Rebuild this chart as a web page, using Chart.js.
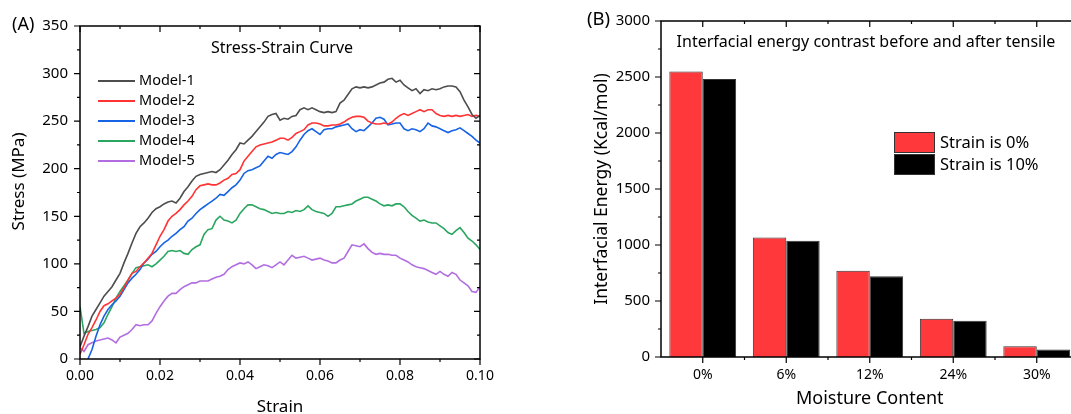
<!DOCTYPE html>
<html>
<head>
<meta charset="utf-8">
<script src="https://cdn.jsdelivr.net/npm/chart.js@4.4.1/dist/chart.umd.min.js"></script>
<style>
  html, body { margin: 0; padding: 0; background: #fff; overflow: hidden; }
  #wrap { position: relative; width: 1071px; height: 414px; overflow: hidden; }
  canvas { position: absolute; top: 0; }
  #c1 { left: 0; }
  #c2 { left: 540px; }
</style>
</head>
<body>
<div id="wrap">
  <canvas id="c1" width="540" height="418"></canvas>
  <canvas id="c2" width="560" height="418"></canvas>
</div>
<script>
// (A) stress-strain curves
const strain = [
  0, 0.001, 0.002, 0.003, 0.004, 0.005, 0.006, 0.007, 0.008, 0.009,
  0.01, 0.011, 0.012, 0.013, 0.014, 0.015, 0.016, 0.017, 0.018, 0.019,
  0.02, 0.021, 0.022, 0.023, 0.024, 0.025, 0.026, 0.027, 0.028, 0.029,
  0.03, 0.031, 0.032, 0.033, 0.034, 0.035, 0.036, 0.037, 0.038, 0.039,
  0.04, 0.041, 0.042, 0.043, 0.044, 0.045, 0.046, 0.047, 0.048, 0.049,
  0.05, 0.051, 0.052, 0.053, 0.054, 0.055, 0.056, 0.057, 0.058, 0.059,
  0.06, 0.061, 0.062, 0.063, 0.064, 0.065, 0.066, 0.067, 0.068, 0.069,
  0.07, 0.071, 0.072, 0.073, 0.074, 0.075, 0.076, 0.077, 0.078, 0.079,
  0.08, 0.081, 0.082, 0.083, 0.084, 0.085, 0.086, 0.087, 0.088, 0.089,
  0.09, 0.091, 0.092, 0.093, 0.094, 0.095, 0.096, 0.097, 0.098, 0.099,
  0.1
];

const model1 = [
  13, 24, 34, 45, 52, 59, 66, 71, 76, 83,
  90, 101, 111, 122, 132, 139, 143, 148, 154, 158,
  160, 163, 165, 166, 164, 169, 176, 181, 187, 192,
  194, 195, 196, 197, 196, 199, 204, 209, 215, 220,
  227, 226, 230, 234, 239, 244, 249, 255, 257, 258,
  251, 253, 252, 255, 256, 262, 264, 262, 264, 262,
  260, 259, 260, 259, 260, 269, 272, 278, 284, 286,
  285, 286, 285, 286, 288, 290, 291, 294, 295, 291,
  293, 288, 285, 282, 284, 279, 283, 282, 284, 283,
  284, 286, 287, 287, 286, 281, 272, 265, 257, 253,
  256
];
const model2 = [
  5, 15, 26, 33, 41, 50, 56, 58, 61, 64,
  68, 75, 83, 90, 92, 97, 101, 106, 111, 120,
  129, 136, 145, 150, 153, 157, 162, 166, 171, 178,
  182, 183, 184, 183, 183, 185, 188, 190, 194, 195,
  199, 208, 213, 218, 223, 225, 226, 227, 228, 230,
  232, 232, 230, 233, 237, 239, 241, 246, 248, 248,
  247, 245, 245, 246, 246, 247, 249, 252, 254, 255,
  255, 254, 250, 248, 247, 247, 248, 247, 249, 253,
  256, 258, 256, 258, 260, 262, 260, 262, 262, 258,
  256, 255, 256, 255, 256, 255, 256, 257, 255, 256,
  255
];
const model3 = [
  null, null, 0, 10, 24, 36, 45, 52, 57, 61,
  66, 73, 80, 85, 89, 94, 101, 105, 110, 113,
  118, 122, 125, 129, 132, 136, 139, 145, 148, 153,
  157, 160, 163, 166, 169, 173, 172, 176, 180, 183,
  188, 195, 198, 199, 201, 203, 208, 213, 211, 215,
  217, 216, 215, 218, 223, 230, 236, 240, 242, 239,
  236, 241, 242, 242, 244, 245, 246, 247, 242, 239,
  241, 240, 244, 248, 253, 254, 252, 246, 247, 248,
  248, 242, 240, 242, 241, 239, 242, 248, 245, 244,
  242, 240, 238, 240, 241, 243, 240, 237, 234, 230,
  227
];
const model4 = [
  55, 27, 29, 30, 31, 33, 38, 47, 55, 64,
  71, 77, 83, 90, 96, 97, 98, 99, 97, 100,
  104, 108, 113, 114, 113, 114, 111, 110, 115, 118,
  120, 131, 136, 137, 146, 150, 146, 145, 143, 146,
  153, 158, 162, 162, 160, 158, 157, 155, 153, 154,
  153, 153, 155, 154, 156, 155, 157, 161, 157, 155,
  154, 153, 150, 153, 160, 160, 161, 162, 163, 166,
  168, 170, 170, 168, 166, 163, 161, 162, 161, 163,
  163, 160, 155, 151, 148, 145, 146, 144, 143, 143,
  140, 137, 133, 131, 135, 138, 133, 127, 124, 120,
  115
];
const model5 = [
  12, 8, 15, 17, 19, 20, 21, 22, 20, 17,
  23, 25, 27, 31, 36, 35, 36, 36, 40, 48,
  55, 61, 66, 69, 69, 73, 76, 78, 80, 80,
  82, 82, 82, 84, 86, 87, 89, 94, 97, 99,
  101, 100, 102, 99, 95, 97, 99, 98, 96, 99,
  102, 99, 104, 109, 106, 107, 108, 106, 104, 105,
  106, 104, 103, 101, 101, 104, 106, 113, 120, 119,
  118, 121, 116, 112, 110, 111, 110, 110, 109, 109,
  106, 104, 102, 99, 97, 96, 95, 93, 91, 89,
  92, 89, 87, 91, 89, 83, 80, 77, 71, 70,
  76
];
const modelNames = ['Model-1', 'Model-2', 'Model-3', 'Model-4', 'Model-5'];
const modelColors = ['#4d4d4d', '#ff3333', '#1763e6', '#2aa660', '#b26ee0'];

// (B) interfacial energy bars
const moisture = ['0%', '6%', '12%', '24%', '30%'];
const strain0 = [2550, 1068, 770, 342, 97];
const strain10 = [2483, 1037, 722, 323, 67];
const barNames = ['Strain is 0%', 'Strain is 10%'];

Chart.defaults.font.family = "'Noto Sans', sans-serif";
Chart.defaults.color = '#000';

// box around plot + Origin-style ticks (out on left/bottom, in on right/top)
const frame = {
  id: 'frame',
  afterDraw(chart) {
    const { ctx, chartArea: a, scales: { x, y } } = chart;
    ctx.save();
    ctx.strokeStyle = '#000';
    ctx.lineWidth = 1.5;
    ctx.strokeRect(a.left, a.top, a.right - a.left, a.bottom - a.top);
    ctx.lineWidth = 1.2;
    ctx.beginPath();
    y.ticks.forEach(t => {
      const py = y.getPixelForValue(t.value);
      const len = t.label === '' ? 3 : 6;
      ctx.moveTo(a.left - len, py); ctx.lineTo(a.left, py);
      ctx.moveTo(a.right - len, py); ctx.lineTo(a.right, py);
    });
    const xt = [];
    if (x.type === 'category') {
      x.ticks.forEach((t, i) => {
        const px = x.getPixelForTick(i);
        xt.push([px, 6]);
        if (i < x.ticks.length - 1) xt.push([(px + x.getPixelForTick(i + 1)) / 2, 3]);
      });
    } else {
      x.ticks.forEach(t => xt.push([x.getPixelForValue(t.value), t.label === '' ? 3 : 6]));
    }
    xt.forEach(([px, len]) => {
      ctx.moveTo(px, a.bottom); ctx.lineTo(px, a.bottom + len);
      ctx.moveTo(px, a.top); ctx.lineTo(px, a.top + len);
    });
    ctx.stroke();
    ctx.restore();
  }
};

const lineNotes = {
  id: 'lineNotes',
  afterDraw(chart) {
    const ctx = chart.ctx;
    ctx.save();
    ctx.fillStyle = '#000';
    ctx.textBaseline = 'middle';
    ctx.font = "18px 'Noto Sans'";
    ctx.textAlign = 'left';
    ctx.fillText('(A)', 12, 25);
    ctx.font = "16px 'Noto Sans'";
    ctx.textAlign = 'center';
    ctx.fillText('Stress-Strain Curve', 282, 48);
    ctx.font = "14.5px 'Noto Sans'";
    ctx.textAlign = 'left';
    chart.data.datasets.forEach((ds, i) => {
      const yy = 81 + i * 20;
      ctx.strokeStyle = ds.borderColor;
      ctx.lineWidth = 2;
      ctx.beginPath();
      ctx.moveTo(98, yy); ctx.lineTo(135, yy);
      ctx.stroke();
      ctx.fillText(ds.label, 139, yy);
    });
    ctx.restore();
  }
};

const barNotes = {
  id: 'barNotes',
  afterDraw(chart) {
    const ctx = chart.ctx;
    ctx.save();
    ctx.fillStyle = '#000';
    ctx.textBaseline = 'middle';
    ctx.font = "18.5px 'Noto Sans'";
    ctx.textAlign = 'left';
    ctx.fillText('(B)', 47, 20);
    ctx.font = "16px 'Noto Sans'";
    ctx.textAlign = 'center';
    ctx.fillText('Interfacial energy contrast before and after tensile', 326, 42);
    ctx.font = "16.5px 'Noto Sans'";
    ctx.textAlign = 'left';
    chart.data.datasets.forEach((ds, i) => {
      const yy = 132 + i * 22;
      ctx.fillStyle = ds.backgroundColor;
      ctx.fillRect(354, yy, 40, 20);
      ctx.strokeStyle = '#333';
      ctx.lineWidth = 1;
      ctx.strokeRect(354.5, yy + 0.5, 40, 20);
      ctx.fillStyle = '#000';
      ctx.fillText(ds.label, 400, yy + 11);
    });
    ctx.restore();
  }
};

new Chart(document.getElementById('c1'), {
  type: 'line',
  data: {
    datasets: [model1, model2, model3, model4, model5].map((vals, i) => ({
      label: modelNames[i],
      data: strain.map((s, j) => ({ x: s, y: vals[j] })),
      borderColor: modelColors[i],
      borderWidth: 1.6,
      pointRadius: 0,
      tension: 0,
      spanGaps: false
    }))
  },
  options: {
    responsive: false,
    animation: false,
    layout: { padding: { left: 0, right: 60, top: 26, bottom: 0 } },
    plugins: { legend: { display: false }, tooltip: { enabled: false } },
    scales: {
      x: {
        type: 'linear', min: 0, max: 0.1,
        grid: { display: false, drawTicks: false },
        border: { display: false },
        ticks: {
          stepSize: 0.01, autoSkip: false, maxRotation: 0, padding: 9,
          font: { size: 14 },
          callback: (v, i) => (i % 2 === 0 ? v.toFixed(2) : '')
        },
        title: { display: true, text: 'Strain', font: { size: 17 }, padding: { top: 0, bottom: 1 } },
        afterFit: s => { s.height = 59; }
      },
      y: {
        min: 0, max: 350,
        grid: { display: false, drawTicks: false },
        border: { display: false },
        ticks: {
          stepSize: 25, autoSkip: false, padding: 12,
          font: { size: 15 },
          callback: (v, i) => (i % 2 === 0 ? v : '')
        },
        // leading spaces nudge the rotated title up like the original
        title: { display: true, text: '     Stress (MPa)', font: { size: 17 }, padding: { top: 9, bottom: 0 } },
        afterFit: s => { s.width = 80; }
      }
    }
  },
  plugins: [frame, lineNotes]
});

// plot area runs past the window edge on the right, as in the original
new Chart(document.getElementById('c2'), {
  type: 'bar',
  data: {
    labels: moisture,
    datasets: [
      { label: barNames[0], data: strain0, backgroundColor: '#ff383c' },
      { label: barNames[1], data: strain10, backgroundColor: '#000000' }
    ]
  },
  options: {
    responsive: false,
    animation: false,
    layout: { padding: { left: 0, right: 21.5, top: 21, bottom: 0 } },
    datasets: {
      bar: { categoryPercentage: 0.8, barPercentage: 1, borderWidth: 1, borderColor: '#333' }
    },
    plugins: { legend: { display: false }, tooltip: { enabled: false } },
    scales: {
      x: {
        grid: { display: false, drawTicks: false },
        border: { display: false },
        ticks: { padding: 10, font: { size: 14 }, maxRotation: 0 },
        title: { display: true, text: 'Moisture Content', font: { size: 18 }, padding: { top: 0, bottom: 8 } },
        afterFit: s => { s.height = 61; s.paddingLeft = 0; s.paddingRight = 0; }
      },
      y: {
        min: 0, max: 3000,
        grid: { display: false, drawTicks: false },
        border: { display: false },
        ticks: {
          stepSize: 250, autoSkip: false, padding: 11,
          font: { size: 15 },
          callback: (v, i) => (i % 2 === 0 ? v : '')
        },
        title: { display: true, text: 'Interfacial Energy (Kcal/mol)', font: { size: 17.5 }, padding: { top: 52, bottom: 0 } },
        afterFit: s => { s.width = 121; }
      }
    }
  },
  plugins: [frame, barNotes]
});
</script>
</body>
</html>
